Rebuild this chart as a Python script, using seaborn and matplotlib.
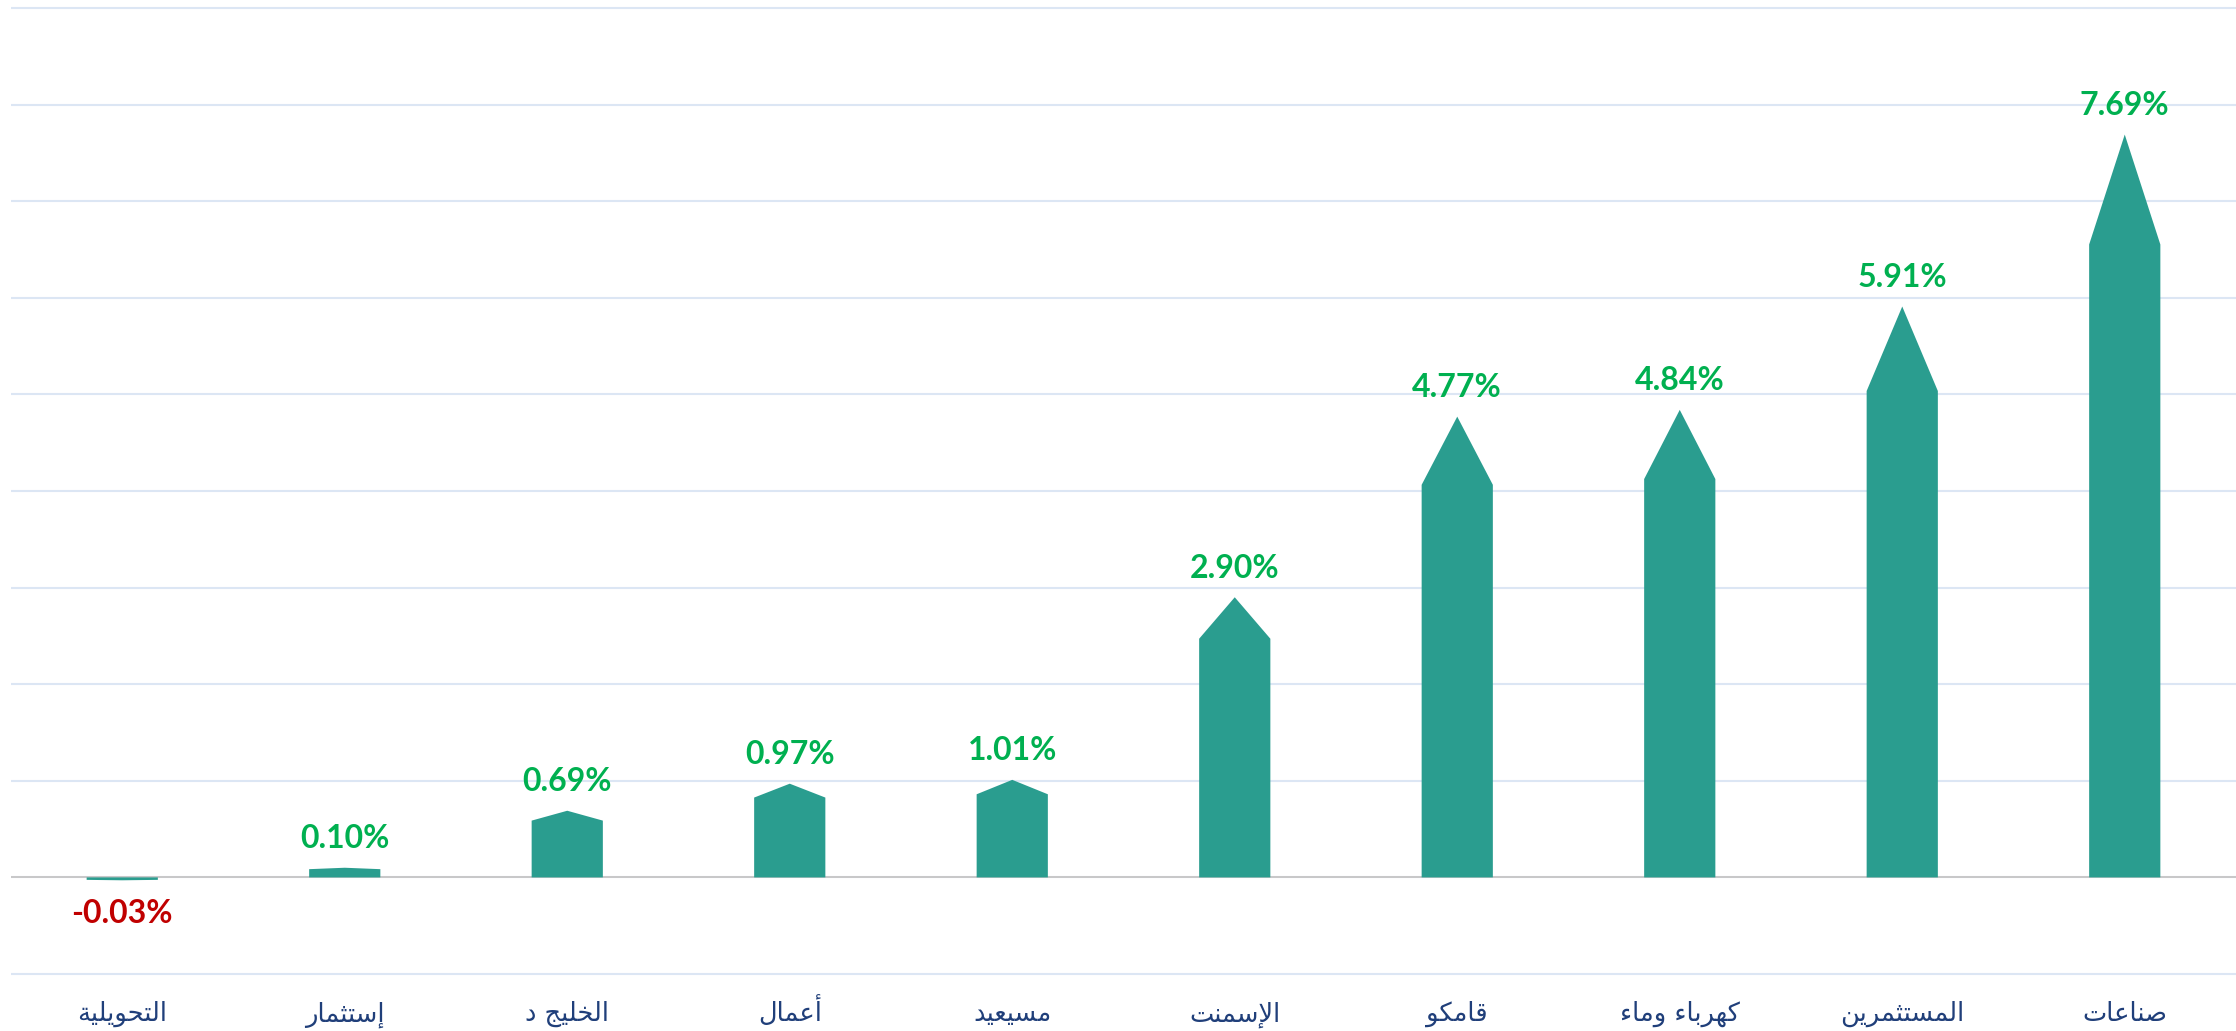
import matplotlib
matplotlib.use('Agg')
import matplotlib.pyplot as plt
import seaborn as sns
import numpy as np
from matplotlib.patches import Polygon

# data (left to right as in the chart)
companies = ['التحويلية', 'إستثمار', 'الخليج د', 'أعمال', 'مسيعيد',
             'الإسمنت', 'قامكو', 'كهرباء وماء', 'المستثمرين', 'صناعات']
changes = [-0.03, 0.10, 0.69, 0.97, 1.01, 2.90, 4.77, 4.84, 5.91, 7.69]
grid_levels = list(range(-1, 10))

BAR = '#2A9D8F'
UP = '#00B050'
DOWN = '#C00000'
HEAD = 0.148  # share of bar height used by the pointed top

# matplotlib has no arabic shaping, so map letters to presentation forms and reverse
DUAL = {'ب': 0xFE8F, 'ت': 0xFE95, 'ث': 0xFE99, 'ج': 0xFE9D, 'ح': 0xFEA1, 'خ': 0xFEA5,
        'س': 0xFEB1, 'ص': 0xFEB9, 'ع': 0xFEC9, 'ق': 0xFED5, 'ك': 0xFED9, 'ل': 0xFEDD,
        'م': 0xFEE1, 'ن': 0xFEE5, 'ه': 0xFEE9, 'ي': 0xFEF1}
RIGHT = {'ا': 0xFE8D, 'أ': 0xFE83, 'إ': 0xFE87, 'د': 0xFEA9, 'ر': 0xFEAD, 'و': 0xFEED,
         'ة': 0xFE93}
LAM_ALEF = {'ا': 0xFEFB, 'أ': 0xFEF7, 'إ': 0xFEF9}


def shape(text):
    items = []
    i = 0
    while i < len(text):
        if text[i] == 'ل' and i + 1 < len(text) and text[i + 1] in LAM_ALEF:
            items.append(('la', LAM_ALEF[text[i + 1]]))
            i += 2
        elif text[i] in DUAL:
            items.append(('dual', DUAL[text[i]]))
            i += 1
        elif text[i] in RIGHT:
            items.append(('right', RIGHT[text[i]]))
            i += 1
        else:
            items.append(('none', text[i]))
            i += 1
    out = []
    for k, (kind, base) in enumerate(items):
        if kind == 'none':
            out.append(base)
            continue
        prev_ok = k > 0 and items[k - 1][0] == 'dual'
        next_ok = kind == 'dual' and k + 1 < len(items) and items[k + 1][0] != 'none'
        if kind == 'dual':
            off = 3 if (prev_ok and next_ok) else 2 if next_ok else 1 if prev_ok else 0
        else:
            off = 1 if prev_ok else 0
        out.append(chr(base + off))
    return ''.join(out)[::-1]


sns.set_style('white')
plt.rcParams['font.family'] = ['DejaVu Sans']

fig = plt.figure(figsize=(22.36, 10.31), dpi=100)
ax = fig.add_axes([11 / 2236, 0.0506, 1 - 11 / 2236, 0.9494])

labels = [shape(c) for c in companies]
sns.barplot(x=labels, y=changes, color=BAR, saturation=1, width=0.32, ax=ax)

# turn each bar into a pentagon with a pointed top
for p, v in zip(list(ax.patches), changes):
    x0, w, h = p.get_x(), p.get_width(), p.get_height()
    neck = h * (1 - HEAD)
    pts = [(x0, 0), (x0, neck), (x0 + w / 2, h), (x0 + w, neck), (x0 + w, 0)]
    ax.add_patch(Polygon(pts, closed=True, facecolor=BAR, edgecolor='none', zorder=3))
    p.set_visible(False)
    ax.annotate(f'{v:.2f}%', (x0 + w / 2, h), xytext=(0, 14 if v >= 0 else -31),
                textcoords='offset points', ha='center', va='baseline',
                fontsize=23, fontweight='bold', family=['Lato', 'DejaVu Sans'],
                color=UP if v >= 0 else DOWN, zorder=4)

ax.set_ylim(-1.05, 9.083)
ax.set_xlim(-0.5, len(companies) - 0.5)
ax.set_yticks(grid_levels)
ax.yaxis.grid(True, color='#DCE6F4', lw=1.5)
ax.axhline(0, color='#C8C8C8', lw=1.4, zorder=2)
ax.set_axisbelow(True)
ax.tick_params(left=False, labelleft=False, bottom=False, pad=27)
for t in ax.get_xticklabels():
    t.set_fontsize(18.5)
    t.set_color('#203F7A')
    t.set_va('baseline')
ax.set_xlabel('')
ax.set_ylabel('')
sns.despine(ax=ax, left=True, bottom=True)

fig.savefig('out.png', dpi=100)
